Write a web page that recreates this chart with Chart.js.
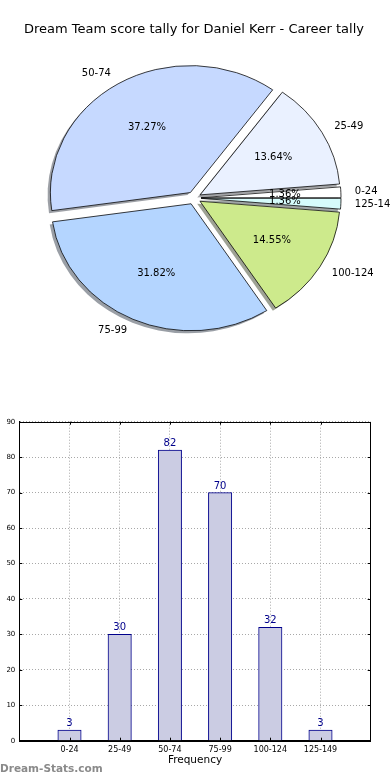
<!DOCTYPE html>
<html>
<head>
<meta charset="utf-8">
<script src="https://cdn.jsdelivr.net/npm/chart.js@4.4.1/dist/chart.umd.min.js"></script>
<style>
  html, body { margin: 0; padding: 0; background: #fff; }
  #page { position: relative; width: 390px; height: 780px; overflow: hidden; }
  #pie { position: absolute; left: 0; top: 0; }
  #bar { position: absolute; left: 0; top: 400px; }
  #watermark { position: absolute; left: 0; top: 762px; font: bold 10.5px "DejaVu Sans"; color: #8a8a8a; }
</style>
</head>
<body>
<div id="page">
  <canvas id="pie" width="390" height="400"></canvas>
  <canvas id="bar" width="390" height="380"></canvas>
  <div id="watermark">Dream-Stats.com</div>
</div>
<script>
const categories = ["0-24", "25-49", "50-74", "75-99", "100-124", "125-149"];
const tallies = [3, 30, 82, 70, 32, 3];
const sliceColors = ["#ffffff", "#eaf1ff", "#c6d9ff", "#b4d5ff", "#cdea8c", "#d6fcfc"];

const FONT = "DejaVu Sans";
const SQUASH = 0.907;   // pie is drawn on a non-square axes
const EXPLODE = 0.05;
const SHADOW = 2.8;

// matplotlib draws slices counter-clockwise, chart.js clockwise: feed them reversed
const pieLabels = categories.slice().reverse();
const pieValues = tallies.slice().reverse();
const pieColors = sliceColors.slice().reverse();

function shadowOf(hex) {
  const n = parseInt(hex.slice(1), 16);
  const r = Math.round(((n >> 16) & 255) * 0.3);
  const g = Math.round(((n >> 8) & 255) * 0.3);
  const b = Math.round((n & 255) * 0.3);
  return "rgba(" + r + "," + g + "," + b + ",0.5)";
}

const explodedPie = {
  id: "explodedPie",
  beforeDatasetsDraw(chart) {
    const ctx = chart.ctx;
    const arcs = chart.getDatasetMeta(0).data;
    const cx = arcs[0].x, cy = arcs[0].y, r = arcs[0].outerRadius;

    ctx.save();
    ctx.translate(cx, cy);
    ctx.scale(1, SQUASH);
    ctx.translate(-cx, -cy);

    // shadows first, under every slice
    arcs.forEach((arc, i) => {
      const mid = (arc.startAngle + arc.endAngle) / 2;
      const x = cx + Math.cos(mid) * EXPLODE * r - SHADOW;
      const y = cy + Math.sin(mid) * EXPLODE * r + SHADOW;
      ctx.beginPath();
      ctx.moveTo(x, y);
      ctx.arc(x, y, r, arc.startAngle, arc.endAngle);
      ctx.closePath();
      ctx.fillStyle = shadowOf(pieColors[i]);
      ctx.fill();
    });

    arcs.forEach(arc => {
      const mid = (arc.startAngle + arc.endAngle) / 2;
      ctx.save();
      ctx.translate(Math.cos(mid) * EXPLODE * r, Math.sin(mid) * EXPLODE * r);
      arc.draw(ctx);
      ctx.restore();
    });

    ctx.restore();
    return false;
  },
  afterDraw(chart) {
    const ctx = chart.ctx;
    const arcs = chart.getDatasetMeta(0).data;
    const values = chart.data.datasets[0].data;
    const total = values.reduce((a, b) => a + b, 0);
    const cx = arcs[0].x, cy = arcs[0].y, r = arcs[0].outerRadius;

    ctx.save();
    ctx.font = "10px \"" + FONT + "\"";
    ctx.fillStyle = "#000";
    ctx.textBaseline = "middle";
    arcs.forEach((arc, i) => {
      const mid = (arc.startAngle + arc.endAngle) / 2;
      const ux = Math.cos(mid), uy = Math.sin(mid);
      const lx = cx + ux * (EXPLODE + 1.1) * r;
      const ly = cy + uy * (EXPLODE + 1.1) * r * SQUASH;
      ctx.textAlign = ux > 0 ? "left" : "right";
      ctx.fillText(chart.data.labels[i], lx, ly);

      const px = cx + ux * (EXPLODE + 0.6) * r;
      const py = cy + uy * (EXPLODE + 0.6) * r * SQUASH;
      ctx.textAlign = "center";
      ctx.fillText((values[i] / total * 100).toFixed(2) + "%", px, py);
    });
    ctx.restore();
  }
};

new Chart(document.getElementById("pie"), {
  type: "pie",
  data: {
    labels: pieLabels,
    datasets: [{
      data: pieValues,
      backgroundColor: pieColors,
      borderColor: "#000",
      borderWidth: 0.8
    }]
  },
  options: {
    responsive: false,
    animation: false,
    events: [],
    rotation: 90,
    radius: 140,
    layout: { padding: { left: 0, right: 2, top: 0, bottom: 41.6 } },
    plugins: {
      legend: { display: false },
      tooltip: { enabled: false },
      title: {
        display: true,
        text: "Dream Team score tally for Daniel Kerr - Career tally",
        color: "#000",
        font: { family: FONT, size: 13, weight: "normal" },
        padding: { top: 22, bottom: 0 }
      }
    }
  },
  plugins: [explodedPie]
});


const barExtras = {
  id: "barExtras",
  afterDraw(chart) {
    const ctx = chart.ctx;
    const { left, right, top, bottom } = chart.chartArea;
    const x = chart.scales.x, y = chart.scales.y;

    ctx.save();
    ctx.strokeStyle = "#000";
    ctx.lineWidth = 1;
    ctx.beginPath();
    // inward tick marks, matplotlib style
    y.ticks.forEach(t => {
      const py = Math.round(y.getPixelForValue(t.value)) + 0.5;
      ctx.moveTo(left, py); ctx.lineTo(left + 3, py);
      ctx.moveTo(right, py); ctx.lineTo(right - 3, py);
    });
    for (let i = 1; i <= categories.length; i++) {
      const px = Math.round(x.getPixelForValue(i)) + 0.5;
      ctx.moveTo(px, bottom); ctx.lineTo(px, bottom - 3);
      ctx.moveTo(px, top); ctx.lineTo(px, top + 3);
    }
    ctx.stroke();
    ctx.strokeRect(Math.round(left) + 0.5, Math.round(top) + 0.5,
      Math.round(right - left), Math.round(bottom - top));

    // counts above bars
    ctx.fillStyle = "#00008b";
    ctx.font = "10px \"" + FONT + "\"";
    ctx.textAlign = "center";
    ctx.textBaseline = "alphabetic";
    chart.getDatasetMeta(0).data.forEach((bar, i) => {
      const v = chart.data.datasets[0].data[i];
      if (v == null) return;
      ctx.fillText(String(v), bar.x, bar.y - 4);
    });
    ctx.restore();
  }
};

new Chart(document.getElementById("bar"), {
  type: "bar",
  data: {
    labels: ["", ...categories, ""],
    datasets: [{
      data: [null, ...tallies, null],
      backgroundColor: "#cbcce3",
      borderColor: "#00008b",
      borderWidth: 1,
      barThickness: 23.4
    }]
  },
  options: {
    responsive: false,
    animation: false,
    events: [],
    layout: { padding: { top: 21.7, right: 19.3, left: 0, bottom: 0 } },
    plugins: {
      legend: { display: false },
      tooltip: { enabled: false }
    },
    scales: {
      x: {
        offset: false,
        z: 1,
        grid: { offset: false, color: "#a8a8a8", lineWidth: 1, drawTicks: false },
        border: { display: true, color: "#000", width: 1, dash: [1, 2] },
        ticks: {
          autoSkip: false,
          maxRotation: 0,
          padding: 4,
          color: "#000",
          font: { family: FONT, size: 8 }
        },
        title: {
          display: true,
          text: "Frequency",
          color: "#000",
          font: { family: FONT, size: 10.5 },
          padding: { top: 0, bottom: 13 }
        },
        afterFit: s => { s.height = 39.3; }
      },
      y: {
        min: 0,
        max: 90,
        z: 1,
        grid: { color: "#a8a8a8", lineWidth: 1, drawTicks: false },
        border: { display: true, color: "#000", width: 1, dash: [1, 2] },
        ticks: {
          stepSize: 10,
          padding: 4,
          color: "#000",
          font: { family: FONT, size: 7 }
        },
        afterFit: s => { s.width = 19.3; }
      }
    }
  },
  plugins: [barExtras]
});
</script>
</body>
</html>
